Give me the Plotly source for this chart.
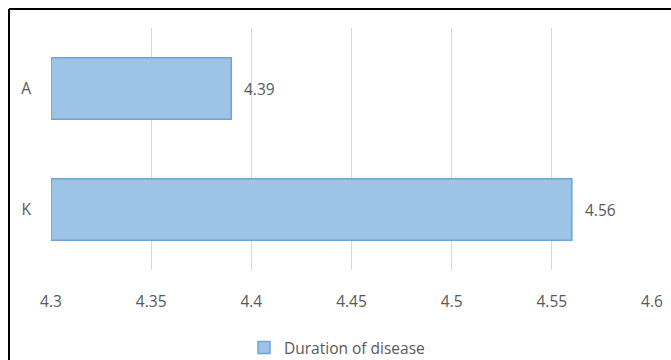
import plotly.graph_objects as go

categories = ["A", "K"]
values = [4.39, 4.56]
value_labels = ["4.39", "4.56"]
series_name = "Duration of disease"
x_ticks = [4.3, 4.35, 4.4, 4.45, 4.5, 4.55, 4.6]
x_tick_labels = ["4.3", "4.35", "4.4", "4.45", "4.5", "4.55", "4.6"]
axis_min = 4.3

W, H = 671, 360
L, R, T, B = 51, 19, 28, 90
pw, ph = W - L - R, H - T - B

font = dict(family="Open Sans, sans-serif", size=15.5, color="#595959")

fig = go.Figure()
fig.add_trace(go.Bar(
    x=[v - axis_min for v in values], y=categories, orientation="h",
    base=axis_min,
    marker=dict(color="#9DC3E6", line=dict(color="#6FA3D8", width=1.5)),
    name=series_name, showlegend=True,
))

for c, v, t in zip(categories, values, value_labels):
    fig.add_annotation(x=v, y=c, text=t, showarrow=False, xanchor="left",
                       xshift=11, font=font)

def px_x(p):
    return (p - L) / pw

def px_y(p):
    return (H - B - p) / ph

fig.add_shape(type="line", xref="paper", yref="paper",
              x0=px_x(9), x1=px_x(680), y0=px_y(9), y1=px_y(9),
              line=dict(color="black", width=2))
fig.add_shape(type="line", xref="paper", yref="paper",
              x0=px_x(9), x1=px_x(9), y0=px_y(9), y1=px_y(370),
              line=dict(color="black", width=2))

fig.update_layout(
    width=W, height=H,
    margin=dict(l=L, r=R, t=T, b=B, pad=0, autoexpand=False),
    paper_bgcolor="white", plot_bgcolor="white",
    font=font,
    bargap=0.49,
    showlegend=True,
    legend=dict(orientation="h", x=px_x(244), xanchor="left", y=px_y(348),
                yanchor="middle", font=font, itemwidth=30),
    xaxis=dict(range=[4.3, 4.6], tickvals=x_ticks, ticktext=x_tick_labels,
               showgrid=True, gridcolor="#D9D9D9", gridwidth=1,
               zeroline=False, showline=False, ticks="",
               ticklabelstandoff=20, fixedrange=True),
    yaxis=dict(categoryorder="array", categoryarray=["K", "A"],
               showgrid=False, zeroline=False, showline=False, ticks="",
               ticklabelstandoff=19, fixedrange=True),
)

fig.write_html("out.html")
